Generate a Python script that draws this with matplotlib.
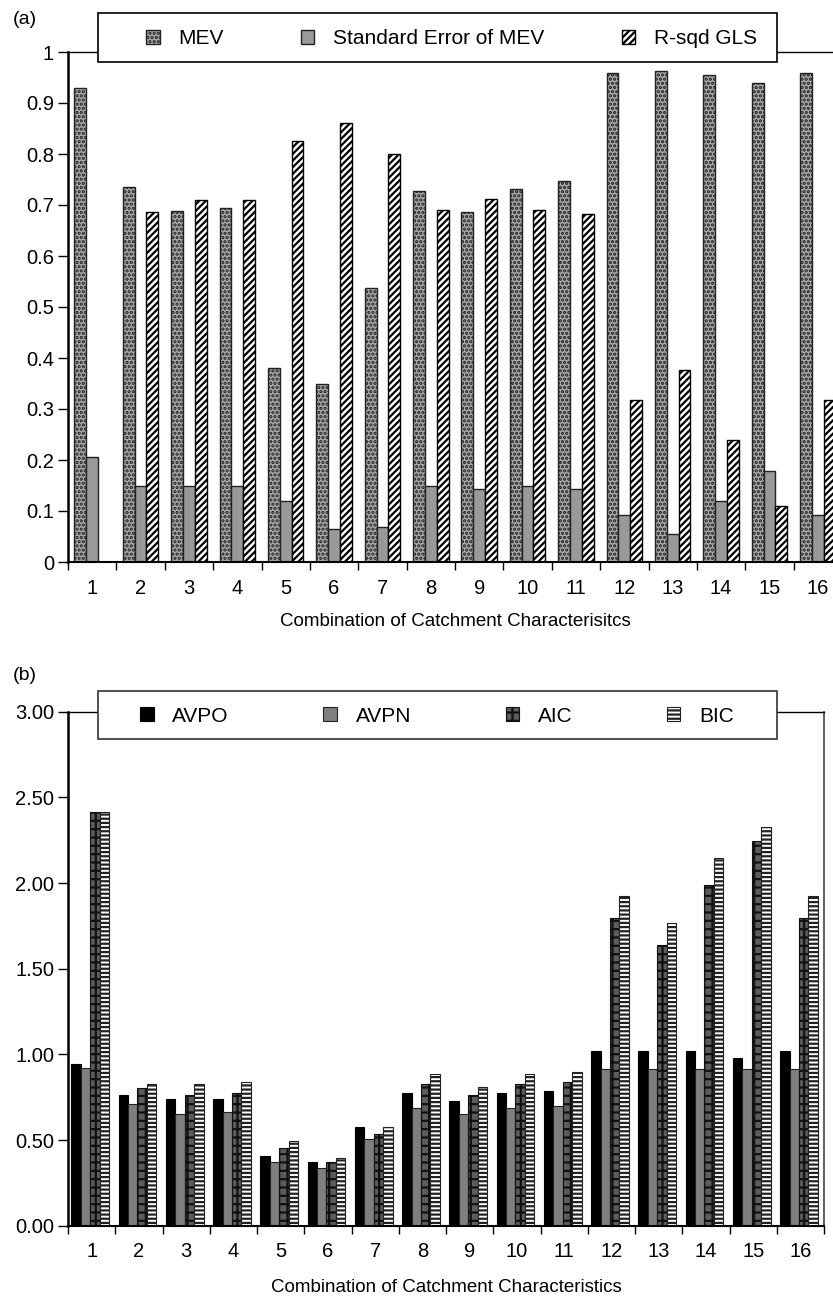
import matplotlib.pyplot as plt
from matplotlib.patches import Rectangle
import numpy as np

plt.rcParams['font.family'] = ['Liberation Sans', 'DejaVu Sans']
plt.rcParams['hatch.linewidth'] = 1.6

# Panel (a) data
combos = [str(i) for i in range(1, 17)]
mev = [0.929, 0.735, 0.689, 0.694, 0.381, 0.350, 0.537, 0.727,
       0.686, 0.731, 0.747, 0.959, 0.963, 0.955, 0.940, 0.959]
se_mev = [0.206, 0.149, 0.149, 0.149, 0.120, 0.065, 0.069, 0.149,
          0.144, 0.149, 0.144, 0.092, 0.054, 0.120, 0.179, 0.092]
rsq_gls = [0.0, 0.686, 0.709, 0.709, 0.826, 0.860, 0.800, 0.690,
           0.712, 0.690, 0.682, 0.318, 0.376, 0.240, 0.110, 0.318]

# Panel (b) data
avpo = [0.944, 0.763, 0.738, 0.738, 0.409, 0.372, 0.578, 0.773,
        0.726, 0.773, 0.788, 1.022, 1.022, 1.022, 0.981, 1.022]
avpn = [0.922, 0.710, 0.652, 0.666, 0.374, 0.335, 0.504, 0.689,
        0.650, 0.689, 0.701, 0.915, 0.915, 0.915, 0.915, 0.915]
aic = [2.417, 0.802, 0.763, 0.777, 0.455, 0.372, 0.533, 0.825,
       0.765, 0.825, 0.837, 1.794, 1.639, 1.989, 2.248, 1.794]
bic = [2.417, 0.825, 0.825, 0.837, 0.494, 0.397, 0.578, 0.886,
       0.812, 0.886, 0.899, 1.927, 1.769, 2.145, 2.329, 1.927]

W, H = 833, 1296
fig = plt.figure(figsize=(W / 100, H / 100), dpi=100)

def px_axes(x0, x1, ytop, ybot):
    return fig.add_axes([x0 / W, 1 - ybot / H, (x1 - x0) / W, (ybot - ytop) / H])

def style_axes(ax, n):
    ax.set_xlim(0, n)
    ax.set_xticks(np.arange(0, n + 1), labels=[''] * (n + 1))
    ax.set_xticks(np.arange(n) + 0.5, labels=combos, minor=True)
    ax.tick_params(axis='x', which='major', direction='out', length=6, width=1)
    ax.tick_params(axis='x', which='minor', length=0, pad=12, labelsize=14.5)
    ax.tick_params(axis='y', direction='out', length=7, width=1, labelsize=14.5, pad=3)
    ax.spines['left'].set_linewidth(1.8)
    ax.spines['bottom'].set_linewidth(1.5)
    ax.spines['top'].set_linewidth(1.0)
    ax.spines['right'].set_linewidth(1.2)
    ax.spines['right'].set_color('#444444')

def legend_box(ax, box, items, ec):
    # box = (x0, x1, ytop, ybot) for the frame, items = (x0, x1) for the entries, in px
    bx0, bx1, bt, bb = box
    fig.patches.append(Rectangle((bx0 / W, 1 - bb / H), (bx1 - bx0) / W, (bb - bt) / H,
                                 transform=fig.transFigure, facecolor='white',
                                 edgecolor=ec, linewidth=1.2, zorder=3))
    ix0, ix1 = items
    handles, labels = ax.get_legend_handles_labels()
    leg = fig.legend(handles, labels, ncol=len(labels), loc='center',
                     bbox_to_anchor=(ix0 / W, 1 - (bb + 1) / H, (ix1 - ix0) / W, (bb - bt) / H),
                     bbox_transform=fig.transFigure, mode='expand', fontsize=15,
                     frameon=False, borderpad=0, borderaxespad=0,
                     handlelength=0.65, handleheight=0.65, handletextpad=0.9)
    leg.set_zorder(6)
    return leg

# ---------- Panel (a) ----------
ax1 = px_axes(68, 842, 52, 562)
x = np.arange(16) + 0.5
w = 0.245
ax1.bar(x - w, mev, w, color='#a8a8a8', edgecolor='#222222', hatch='....',
        linewidth=1.0, label='MEV')
ax1.bar(x, se_mev, w, color='#999999', edgecolor='#222222', linewidth=1.0,
        label='Standard Error of MEV')
ax1.bar(x + w, rsq_gls, w, color='white', edgecolor='black', hatch='/////',
        linewidth=1.0, label='R-sqd GLS')
ax1.set_ylim(0, 1)
ax1.set_yticks(np.arange(0, 1.01, 0.1), labels=['0', '0.1', '0.2', '0.3', '0.4', '0.5',
                                                  '0.6', '0.7', '0.8', '0.9', '1'])
style_axes(ax1, 16)
ax1.set_xlabel('Combination of Catchment Characterisitcs', fontsize=13.5, labelpad=11)
legend_box(ax1, (98, 777, 13, 62), (146, 757), 'black')
fig.text(13 / W, 1 - 19 / H, '(a)', fontsize=14, va='center', ha='left')

# ---------- Panel (b) ----------
ax2 = px_axes(68, 824, 711.7, 1225.7)
xb = np.arange(16) + 0.47
wb = 0.2
ax2.bar(xb - 1.5 * wb, avpo, wb, color='black', edgecolor='black', linewidth=0.8,
        label='AVPO')
ax2.bar(xb - 0.5 * wb, avpn, wb, color='#7f7f7f', edgecolor='#222222', linewidth=0.8,
        label='AVPN')
ax2.bar(xb + 0.5 * wb, aic, wb, color='#5c5c5c', edgecolor='#111111', hatch='++',
        linewidth=0.8, label='AIC')
ax2.bar(xb + 1.5 * wb, bic, wb, color='white', edgecolor='#222222', hatch='----',
        linewidth=0.8, label='BIC')
ax2.set_ylim(0, 3)
ax2.set_yticks(np.arange(0, 3.01, 0.5), labels=[f'{v:.2f}' for v in np.arange(0, 3.01, 0.5)])
style_axes(ax2, 16)
ax2.set_xlabel('Combination of Catchment Characteristics', fontsize=13.5, labelpad=13)
legend_box(ax2, (98, 777, 691, 739), (140, 734), '#333333')
fig.text(13 / W, 1 - 675 / H, '(b)', fontsize=14, va='center', ha='left')

fig.savefig('out.png', dpi=100)
